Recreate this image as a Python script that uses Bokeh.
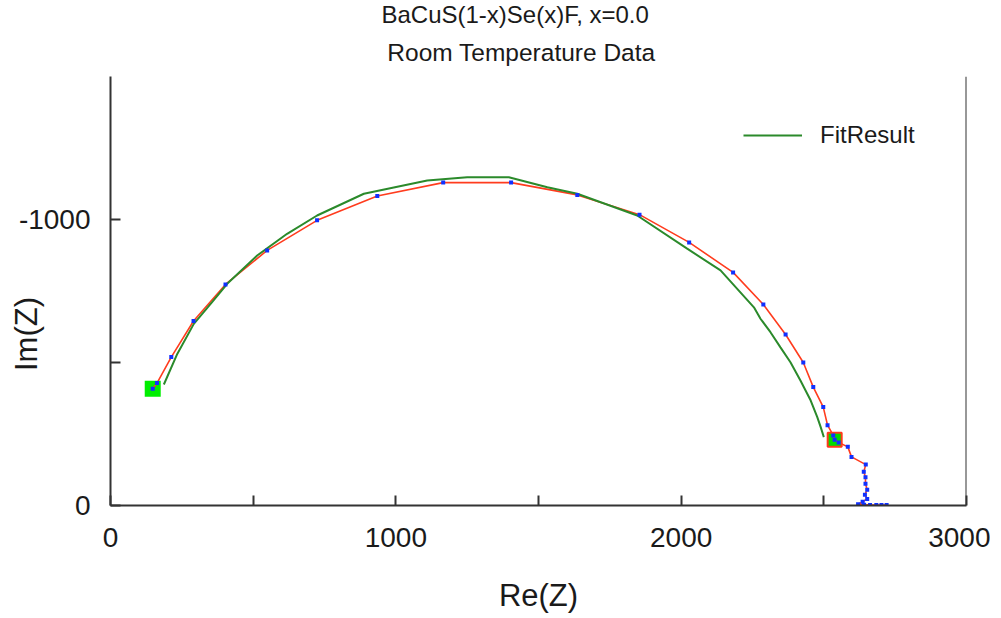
from bokeh.plotting import figure
from bokeh.models import Range1d, FixedTicker, Legend, LegendItem, Span, CustomJSTickFormatter, Title
from bokeh.embed import file_html
from bokeh.resources import INLINE

# ---- data ----
title_lines = ["BaCuS(1-x)Se(x)F, x=0.0", "Room Temperature Data"]
x_label = "Re(Z)"
y_label = "Im(Z)"
x_ticks = [0, 500, 1000, 1500, 2000, 2500, 3000]
y_ticks = [0, -500, -1000]

data_re = [148, 163, 213, 291, 403, 549, 724, 935, 1166, 1404, 1636, 1854, 2028, 2182,
           2288, 2366, 2428, 2463, 2498, 2513, 2533, 2538, 2552, 2584, 2597, 2647, 2640,
           2646, 2646, 2652, 2644, 2652, 2636, 2620, 2641, 2662, 2684, 2702, 2720]
data_im = [-408, -428, -519, -645, -773, -892, -997, -1082, -1129, -1129, -1086, -1017, -920, -815,
           -703, -598, -500, -414, -344, -281, -245, -230, -220, -205, -170, -143, -118,
           -99, -76, -55, -38, -23, -13, -4, -3, -2, -2, -2, -2]

fit_re = [187, 234, 292, 356, 409, 514, 619, 724, 888, 1110, 1250, 1396, 1531, 1636,
          1846, 2021, 2138, 2255, 2278, 2313, 2348, 2383, 2418, 2454, 2477, 2489, 2500]
fit_im = [-423, -530, -635, -711, -775, -874, -950, -1014, -1090, -1136, -1148, -1148, -1113, -1090,
          -1014, -898, -822, -693, -653, -606, -553, -501, -437, -367, -309, -274, -239]

start_re, start_im = [148], [-408]
end_re, end_im = [2538], [-230]

# ---- figure ----
FONT = "Liberation Sans"
TXT = "#1a1a1a"
AX = "#333333"
NB = "\u00a0"
p = figure(width=990, height=618, output_backend="svg", toolbar_location=None,
           x_range=Range1d(0, 3000), y_range=Range1d(0, -1500),
           min_border_left=110, min_border_right=24, min_border_top=76, min_border_bottom=113)
p.outline_line_color = None
p.xgrid.visible = False
p.ygrid.visible = False

# titles: line 2 nearest to the frame, line 1 outermost
p.add_layout(Title(text=title_lines[1] + NB * 5, align="center", standoff=21,
                   text_font=FONT, text_font_size="24.5px", text_font_style="normal",
                   text_color=TXT), "above")
p.title.text = title_lines[0] + NB * 7
p.title.align = "center"
p.title.standoff = -3
p.title.text_font = FONT
p.title.text_font_size = "24px"
p.title.text_font_style = "normal"
p.title.text_color = TXT

fmt = CustomJSTickFormatter(code="return (Math.abs(tick) % 1000 === 0) ? String(tick) : '';")
for ax, ticks in ((p.xaxis[0], x_ticks), (p.yaxis[0], y_ticks)):
    ax.ticker = FixedTicker(ticks=ticks)
    ax.formatter = fmt
    ax.axis_line_color = AX
    ax.axis_line_width = 2
    ax.major_tick_line_color = AX
    ax.major_tick_line_width = 2
    ax.major_tick_in = 10
    ax.major_tick_out = 0
    ax.minor_tick_line_color = None
    ax.major_label_text_font = FONT
    ax.major_label_text_font_size = "28px"
    ax.major_label_text_color = TXT
    ax.axis_label_text_font = FONT
    ax.axis_label_text_font_size = "31px"
    ax.axis_label_text_font_style = "normal"
    ax.axis_label_text_color = TXT

p.xaxis[0].major_label_standoff = 22
p.xaxis[0].axis_label = x_label
p.xaxis[0].axis_label_standoff = 28
p.yaxis[0].major_label_standoff = 20
p.yaxis[0].axis_label = y_label + NB * 10
p.yaxis[0].axis_label_standoff = -28

p.add_layout(Span(location=3000, dimension="height", line_color=AX, line_width=2))

# markers for fit range
p.scatter(start_re, start_im, marker="square", size=16, fill_color="#00ee00", line_color=None)
p.scatter(end_re, end_im, marker="square", size=14, fill_color="#00dd00",
          line_color="#ff3a1a", line_width=2)

p.line(data_re, data_im, line_color="#ff3c1e", line_width=1.6)
fit_r = p.line(fit_re, fit_im, line_color="#2b8a2b", line_width=2)
p.scatter(data_re, data_im, marker="square", size=4, fill_color="#1030ff", line_color=None)

legend = Legend(items=[LegendItem(label="FitResult", renderers=[fit_r])],
                location=(633, 356), glyph_width=59, glyph_height=28, label_height=28,
                label_standoff=18, label_text_font=FONT, label_text_font_size="24px",
                label_text_color=TXT, padding=0, margin=0, spacing=0,
                border_line_color=None, background_fill_alpha=0)
p.add_layout(legend)

open("out.html", "w").write(file_html(p, INLINE))
